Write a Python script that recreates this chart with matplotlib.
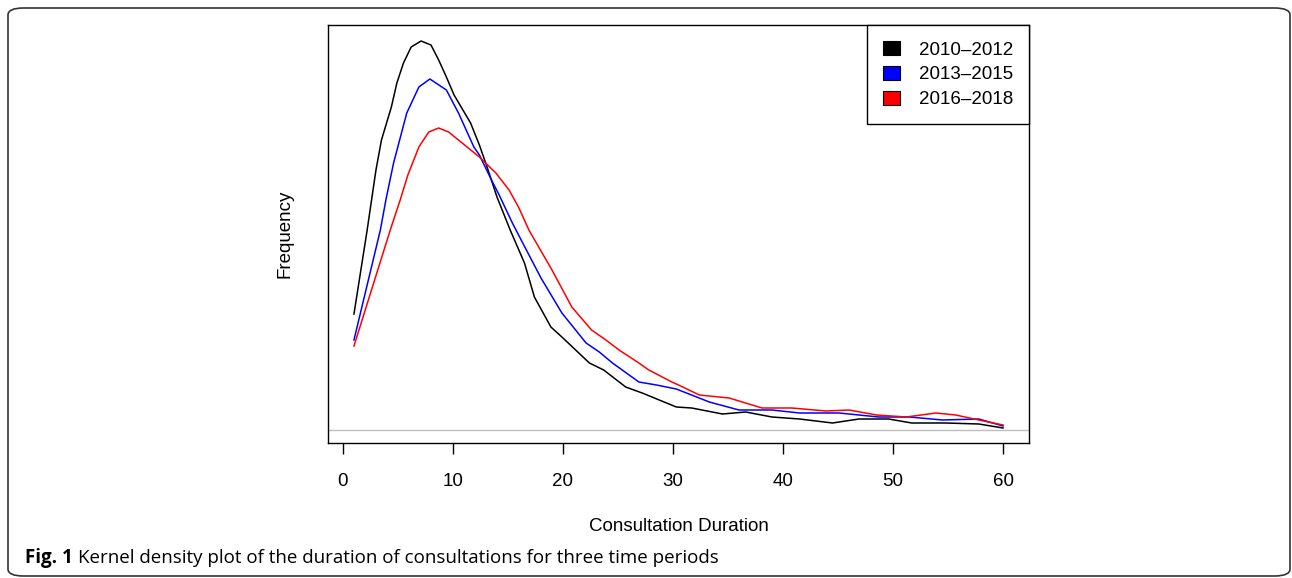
import matplotlib
matplotlib.use("Agg")
import matplotlib.pyplot as plt
from matplotlib.patches import Patch, FancyBboxPatch

plt.rcParams['font.family'] = ['Liberation Sans', 'DejaVu Sans']

# kernel density estimates (arbitrary density units)
x_2010 = [1.0, 2.2, 3.0, 3.5, 4.4, 4.9, 5.5, 6.2, 7.1, 8.0, 8.7, 9.4, 10.1, 11.6, 12.4,
          13.1, 14.0, 15.2, 16.5, 17.4, 18.9, 19.9, 22.4, 23.7, 25.7, 27.2, 30.3, 31.7,
          34.5, 36.6, 39.0, 41.5, 44.5, 46.9, 49.6, 51.7, 54.8, 57.8, 60.0]
d_2010 = [0.116, 0.200, 0.260, 0.290, 0.323, 0.347, 0.367, 0.383, 0.389, 0.385, 0.370,
          0.353, 0.335, 0.307, 0.285, 0.263, 0.233, 0.200, 0.167, 0.133, 0.103, 0.093,
          0.067, 0.060, 0.043, 0.037, 0.023, 0.022, 0.016, 0.018, 0.013, 0.011, 0.007,
          0.011, 0.011, 0.007, 0.007, 0.006, 0.002]

x_2013 = [1.0, 3.4, 3.9, 4.6, 5.8, 6.9, 7.9, 9.4, 10.5, 11.9, 12.4, 13.5, 14.2, 15.4,
          16.2, 18.0, 19.9, 22.1, 23.3, 24.5, 26.9, 28.5, 30.3, 33.3, 36.0, 39.0, 41.5,
          45.1, 48.7, 51.5, 54.5, 57.8, 60.0]
d_2013 = [0.090, 0.200, 0.230, 0.267, 0.317, 0.343, 0.351, 0.340, 0.317, 0.283, 0.275,
          0.250, 0.235, 0.207, 0.190, 0.152, 0.117, 0.087, 0.078, 0.067, 0.048, 0.045,
          0.041, 0.028, 0.020, 0.020, 0.017, 0.017, 0.013, 0.013, 0.010, 0.011, 0.004]

x_2016 = [1.0, 4.3, 5.2, 5.9, 6.9, 7.8, 8.7, 9.6, 10.5, 12.4, 13.9, 15.1, 16.0, 16.9,
          19.0, 20.8, 22.6, 23.9, 25.1, 26.9, 27.8, 29.9, 30.5, 32.4, 35.1, 36.3, 38.1,
          40.8, 43.9, 46.0, 48.5, 51.2, 53.9, 55.7, 57.8, 60.0]
d_2016 = [0.084, 0.200, 0.230, 0.255, 0.283, 0.298, 0.302, 0.298, 0.290, 0.273, 0.257,
          0.240, 0.222, 0.200, 0.160, 0.123, 0.100, 0.090, 0.080, 0.067, 0.060, 0.048,
          0.045, 0.035, 0.032, 0.028, 0.022, 0.022, 0.019, 0.020, 0.015, 0.013, 0.017,
          0.015, 0.010, 0.005]

periods = ["2010\u20132012", "2013\u20132015", "2016\u20132018"]
colors = ["black", "blue", "red"]
xticks = [0, 10, 20, 30, 40, 50, 60]

fig = plt.figure(figsize=(12.92, 5.78), dpi=100)
ax = fig.add_axes([328 / 1292, 135 / 578, 701 / 1292, 418 / 578])

ax.axhline(0, color="#bebebe", lw=1.0, zorder=1)
ax.plot(x_2010, d_2010, color=colors[0], lw=1.1, zorder=3)
ax.plot(x_2013, d_2013, color=colors[1], lw=1.1, zorder=3)
ax.plot(x_2016, d_2016, color=colors[2], lw=1.1, zorder=3)

ax.set_xlim(-1.36, 62.36)
ax.set_ylim(-0.013, 0.405)
ax.set_xticks(xticks)
ax.set_yticks([])
ax.tick_params(axis="x", length=8, width=1, pad=13.5, labelsize=13.5)
for s in ax.spines.values():
    s.set_linewidth(1.0)
ax.set_xlabel("Consultation Duration", fontsize=13.5, labelpad=20)
ax.set_ylabel("Frequency", fontsize=13.5, labelpad=25)

handles = [Patch(facecolor=c, edgecolor="black", lw=0.8) for c in colors]
leg = ax.legend(handles, periods, loc="upper right", bbox_to_anchor=(1, 1),
                borderaxespad=0, fancybox=False, framealpha=1, edgecolor="black",
                fontsize=13.5, handlelength=0.9, handleheight=0.8, handletextpad=1.0,
                borderpad=0.85, labelspacing=0.38)
leg.get_frame().set_linewidth(1.0)

# outer rounded frame
frame = FancyBboxPatch((8 / 1292, 2 / 578), 1282 / 1292, 568 / 578,
                       boxstyle="round,pad=0,rounding_size=0.012",
                       transform=fig.transFigure, fill=False, edgecolor="#333333",
                       lw=1.2)
fig.patches.append(frame)

# caption
cap_font = ['Open Sans', 'DejaVu Sans']
t1 = fig.text(25 / 1292, 1 - 558 / 578, "Fig. 1", fontsize=13.5, fontweight="bold",
              family=cap_font, va="center", ha="left")
fig.canvas.draw()
bb = t1.get_window_extent(fig.canvas.get_renderer())
fig.text((bb.x1 + 5) / 1292, 1 - 558 / 578,
         "Kernel density plot of the duration of consultations for three time periods",
         fontsize=13.5, family=cap_font, va="center", ha="left")

fig.savefig("out.png", dpi=100)
